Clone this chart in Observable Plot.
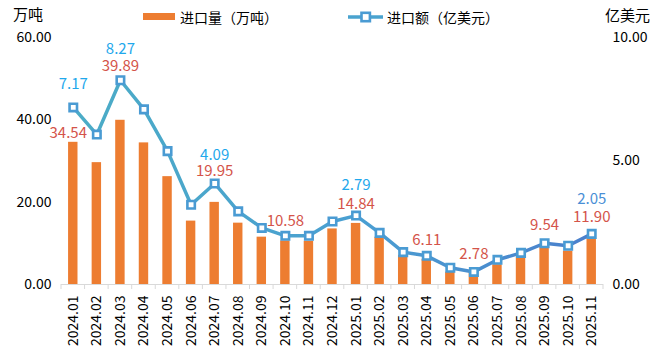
<!DOCTYPE html>
<html><head><meta charset="utf-8">
<script src="https://cdn.jsdelivr.net/npm/d3@7"></script>
<script src="https://cdn.jsdelivr.net/npm/@observablehq/plot@0.6"></script>
<style>
body{margin:0;background:#fff;font-family:"Noto Sans CJK SC","Noto Sans",sans-serif;}
#wrap{position:relative;width:664px;height:364px;overflow:hidden;}
.abs{position:absolute;white-space:nowrap;color:#000;line-height:1;}
</style></head><body>
<div id="wrap"></div>
<script>
// ---- data ----
const months = ["2024.01","2024.02","2024.03","2024.04","2024.05","2024.06","2024.07","2024.08","2024.09","2024.10","2024.11","2024.12",
                "2025.01","2025.02","2025.03","2025.04","2025.05","2025.06","2025.07","2025.08","2025.09","2025.10","2025.11"];
const volume = [34.54,29.6,39.89,34.4,26.2,15.4,19.95,14.9,11.5,10.58,10.5,13.5,14.84,11.5,7.1,6.11,3.0,2.78,4.8,6.7,9.54,8.1,11.90];
const value  = [7.17,6.07,8.27,7.09,5.40,3.23,4.09,2.96,2.29,1.97,1.97,2.55,2.79,2.09,1.31,1.16,0.68,0.51,1.00,1.28,1.67,1.57,2.05];
const volumeLabelMonths = ["2024.01","2024.03","2024.07","2024.10","2025.01","2025.04","2025.06","2025.09","2025.11"];
const valueLabelMonths  = ["2024.01","2024.03","2024.07","2025.01","2025.11"];
const leftTicks  = [0,20,40,60];
const rightTicks = [0,5,10];
const seriesNames = ["进口量（万吨）","进口额（亿美元）"];
const unitLeft = "万吨", unitRight = "亿美元";

// ---- layout / style (not data) ----
const ratio = 60/10;
const redOffset  = {"2024.01":{dx:-5,dy:26},"2024.03":{dy:-14},"2024.07":{dy:-12},"2024.10":{dy:-15},"2025.01":{dy:-11},
                    "2025.04":{dy:-16},"2025.06":{dy:-18},"2025.09":{dy:-18},"2025.11":{dy:-17}};
const blueOffset = {"2024.01":{dy:-23},"2024.03":{dy:-31},"2024.07":{dy:-28},"2025.01":{dy:-30},"2025.11":{dy:-35}};

const rows = months.map((m,i)=>({month:m, volume:volume[i], value:value[i], scaled:value[i]*ratio}));
const f2 = d3.format(".2f");

const gradient = () => {
  const defs = d3.create("svg:defs");
  const g = defs.append("linearGradient").attr("id","lineGrad").attr("x1","0").attr("x2","1").attr("y1","0").attr("y2","0");
  g.append("stop").attr("offset","0%").attr("stop-color","#4bacc6");
  g.append("stop").attr("offset","55%").attr("stop-color","#4a9fd2");
  g.append("stop").attr("offset","100%").attr("stop-color","#4a7fcc");
  return defs.node();
};

const redMarks = volumeLabelMonths.map(m => {
  const r = rows.find(d=>d.month===m), o = redOffset[m]||{};
  return Plot.text([r], {x:"month", y:"scaled", text:d=>f2(d.volume), dx:o.dx||0, dy:o.dy||0,
    fill:"#d4544a", fontSize:15});
});
const blueMarks = valueLabelMonths.map(m => {
  const r = rows.find(d=>d.month===m), o = blueOffset[m]||{};
  return Plot.text([r], {x:"month", y:"scaled", text:d=>f2(d.value), dx:o.dx||0, dy:o.dy||0,
    fill: m==="2025.11" ? "#4a8fd6" : "#1fa8ec", fontSize:15});
});

const plot = Plot.plot({
  width:664, height:364,
  marginLeft:61, marginRight:61, marginTop:37, marginBottom:80,
  style:{fontFamily:'"Noto Sans CJK SC","Noto Sans",sans-serif', fontSize:"14px", color:"#000", background:"#fff"},
  x:{type:"band", domain:months, paddingInner:0.6, paddingOuter:0.3, round:false, label:null},
  y:{domain:[0,60], label:null},
  marks:[
    gradient,
    Plot.axisY(leftTicks, {anchor:"left", tickSize:0, tickPadding:10, tickFormat:f2, label:null, fontSize:14}),
    Plot.axisY(rightTicks.map(t=>t*ratio), {anchor:"right", tickSize:0, tickPadding:9, tickFormat:d=>f2(d/ratio), label:null, fontSize:14}),
    Plot.axisX({tickRotate:-90, tickSize:0, tickPadding:11, label:null, fontSize:14}),
    Plot.barY(rows, {x:"month", y:"volume", fill:"#ed7d31"}),
    Plot.ruleY([0], {stroke:"#d9d9d9", strokeWidth:1}),
    Plot.line(rows, {x:"month", y:"scaled", stroke:"url(#lineGrad)", strokeWidth:3.5, strokeLinejoin:"round"}),
    Plot.dot(rows, {x:"month", y:"scaled", symbol:"square", r:4.2, fill:"#fff", stroke:"#4a9bd3", strokeWidth:2.6}),
    ...redMarks,
    ...blueMarks
  ]
});

// category boundary ticks on x axis
const xs = plot.scale("x");
const bw = xs.bandwidth;
const step = xs.apply(months[1]) - xs.apply(months[0]);
const bounds = months.map(m => xs.apply(m) + bw/2 - step/2).concat([xs.apply(months[months.length-1]) + bw/2 + step/2]);
const ys = plot.scale("y");
const y0 = ys.apply(0);
d3.select(plot).append("g").selectAll("line").data(bounds).join("line")
  .attr("x1",d=>d).attr("x2",d=>d).attr("y1",y0).attr("y2",y0+5)
  .attr("stroke","#d9d9d9").attr("stroke-width",1);

const wrap = document.getElementById("wrap");
wrap.appendChild(plot);
plot.style.position="absolute"; plot.style.left="0"; plot.style.top="0";

function addText(txt, left, top, size){
  const d = document.createElement("div");
  d.className="abs"; d.textContent=txt;
  d.style.left=left+"px"; d.style.top=top+"px"; d.style.fontSize=size+"px";
  wrap.appendChild(d); return d;
}
addText(unitLeft, 13, 6, 15);
addText(unitRight, 605, 7, 15);
// legend
const sw = document.createElement("div");
sw.style.cssText="position:absolute;left:143px;top:12.5px;width:32px;height:7.5px;background:#ed7d31;";
wrap.appendChild(sw);
addText(seriesNames[0], 180, 9.5, 14);
const lg = d3.select(wrap).append("svg").attr("width",40).attr("height",14)
  .style("position","absolute").style("left","347px").style("top","10px");
lg.append("line").attr("x1",1).attr("x2",36).attr("y1",7).attr("y2",7).attr("stroke","#4aa3cf").attr("stroke-width",3.5);
lg.append("rect").attr("x",14.5).attr("y",2.8).attr("width",8.4).attr("height",8.4).attr("fill","#fff").attr("stroke","#4a9bd3").attr("stroke-width",2.6);
addText(seriesNames[1], 387, 9.5, 14);
</script>
</body></html>
